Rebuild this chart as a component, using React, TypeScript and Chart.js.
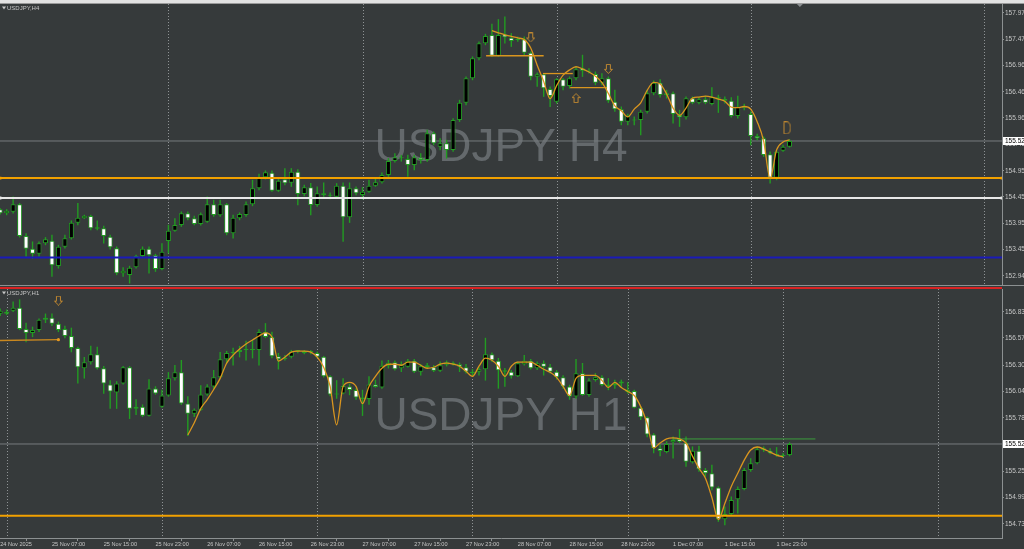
import React, { useEffect, useRef } from "react";
import { Chart, registerables } from "chart.js";

Chart.register(...registerables);

const FONT = '"Liberation Sans", Arial, Helvetica, sans-serif';
const BG = "#363a3b";
const SEP = "#8f9395";
const AXIS = "#8c9091";
const TXT = "#c6c6c6";
const WM = "#64696c";
const GREEN = "#229c22";
const CURVE = "#d9951f";
const ORANGE = "#f2a100";
const ARROW = "#c08830";

// ---------------- H4 (top panel) ----------------
const h4Open = [
  154.213, 154.137, 154.169, 154.309, 153.703, 153.461, 153.365, 153.563, 153.614, 153.13,
  153.499, 153.659, 153.958, 154.041, 154.086, 153.869, 153.85, 153.69, 153.467, 152.989,
  152.958, 153.104, 153.321, 153.461, 153.334, 153.072, 153.608, 153.805, 153.914, 154.137,
  154.041, 153.933, 153.978, 154.309, 154.099, 154.309, 153.754, 154.041, 154.105, 154.309,
  154.615, 154.825, 154.915, 154.57, 154.787, 154.723, 154.934, 154.507, 154.634, 154.296,
  154.519, 154.481, 154.456, 154.666, 154.06, 154.615, 154.487, 154.551, 154.666, 154.73,
  154.87, 155.138, 155.21, 155.176, 155.061, 155.201, 155.157, 155.666, 155.411, 155.475,
  155.348, 155.921, 156.253, 156.718, 157.101, 157.388, 157.547, 157.152, 157.56, 157.496,
  157.464, 157.464, 157.209, 156.75, 156.795, 156.514, 156.272, 156.699, 156.572, 156.718,
  156.909, 156.865, 156.801, 156.635, 156.718, 156.272, 156.125, 155.889, 155.91, 155.921,
  156.081, 156.431, 156.635, 156.393, 156.431, 156.017, 155.972, 156.336, 156.253, 156.317,
  156.227, 156.355, 156.323, 156.291, 155.998, 156.157, 156.036, 155.615, 155.571, 155.265,
  154.819, 155.335, 155.412,
];
const h4High = [
  154.23, 154.213, 154.456, 154.328, 153.754, 153.595, 153.595, 153.678, 153.722, 153.531,
  153.722, 153.997, 154.328, 154.105, 154.105, 153.997, 153.895, 153.722, 153.499, 153.104,
  153.13, 153.34, 153.499, 153.499, 153.359, 153.563, 153.914, 154.041, 154.169, 154.169,
  154.086, 154.15, 154.456, 154.392, 154.392, 154.328, 154.105, 154.15, 154.36, 154.774,
  154.889, 154.953, 154.953, 154.787, 154.997, 154.997, 154.978, 154.679, 154.711, 154.647,
  154.723, 154.53, 154.711, 154.723, 154.723, 154.647, 154.634, 154.774, 154.825, 154.915,
  155.189, 155.284, 155.25, 155.252, 155.252, 155.284, 155.73, 155.698, 155.571, 155.539,
  155.953, 156.304, 156.75, 157.133, 157.42, 157.566, 157.757, 157.846, 157.897, 157.579,
  157.515, 157.515, 157.228, 156.827, 156.814, 156.559, 156.718, 156.718, 156.75, 156.941,
  157.165, 156.909, 156.846, 156.814, 156.75, 156.495, 156.176, 156.036, 155.985, 156.113,
  156.495, 156.674, 156.699, 156.495, 156.463, 156.113, 156.368, 156.368, 156.355, 156.38,
  156.546, 156.4, 156.368, 156.355, 156.38, 156.227, 156.081, 155.654, 155.603, 155.316,
  155.348, 155.443, 155.55,
];
const h4Low = [
  154.12, 154.105, 154.137, 153.678, 153.308, 153.276, 153.308, 153.531, 152.926, 153.085,
  153.467, 153.64, 153.914, 154.035, 153.818, 153.818, 153.563, 153.448, 152.958, 152.926,
  152.798, 153.085, 153.308, 152.989, 153.021, 153.053, 153.372, 153.786, 153.882, 154.009,
  153.914, 153.907, 153.958, 154.073, 154.073, 153.722, 153.659, 154.009, 154.073, 154.277,
  154.583, 154.787, 154.551, 154.551, 154.679, 154.647, 154.296, 154.468, 154.105, 154.264,
  154.456, 154.41, 154.424, 153.595, 153.958, 154.487, 154.405, 154.532, 154.647, 154.711,
  154.838, 155.112, 155.13, 154.838, 154.965, 155.093, 155.125, 155.443, 155.348, 155.188,
  155.316, 155.889, 156.208, 156.686, 157.069, 157.356, 157.133, 157.133, 157.388, 157.324,
  157.42, 157.164, 156.686, 156.559, 156.368, 156.176, 156.24, 156.495, 156.527, 156.686,
  156.75, 156.814, 156.591, 156.591, 156.253, 156.081, 155.826, 155.826, 155.826, 155.634,
  156.049, 156.4, 156.355, 156.336, 155.858, 155.794, 155.934, 156.227, 156.227, 156.227,
  156.208, 156.062, 156.24, 155.972, 155.953, 156.113, 155.443, 155.539, 155.22, 154.71,
  154.774, 155.316, 155.399,
];
const h4Close = [
  154.137, 154.188, 154.309, 153.703, 153.461, 153.365, 153.563, 153.64, 153.142, 153.499,
  153.659, 153.958, 154.054, 154.092, 153.85, 153.844, 153.703, 153.486, 152.989, 153.04,
  153.098, 153.321, 153.461, 153.334, 153.072, 153.404, 153.805, 153.914, 154.137, 154.041,
  153.933, 154.118, 154.309, 154.105, 154.309, 153.754, 154.054, 154.124, 154.309, 154.615,
  154.825, 154.921, 154.57, 154.762, 154.711, 154.934, 154.507, 154.634, 154.296, 154.519,
  154.487, 154.475, 154.666, 154.06, 154.615, 154.519, 154.551, 154.666, 154.73, 154.87,
  155.138, 155.208, 155.19, 155.061, 155.207, 155.157, 155.666, 155.475, 155.475, 155.348,
  155.921, 156.253, 156.718, 157.101, 157.388, 157.528, 157.152, 157.547, 157.502, 157.432,
  157.451, 157.209, 156.75, 156.795, 156.527, 156.38, 156.699, 156.559, 156.718, 156.89,
  156.865, 156.846, 156.635, 156.718, 156.291, 156.125, 155.889, 155.998, 155.93, 156.081,
  156.431, 156.635, 156.4, 156.431, 156.036, 155.972, 156.336, 156.253, 156.317, 156.253,
  156.355, 156.329, 156.291, 155.998, 156.176, 156.189, 155.615, 155.571, 155.252, 154.819,
  155.316, 155.412, 155.52,
];
const h4CurveStart = 76;
const h4Curve = [
  157.63, 157.59, 157.55, 157.52, 157.49, 157.46, 157.3, 156.97, 156.66, 156.33,
  156.58, 156.78, 156.88, 156.94, 156.9, 156.84, 156.76, 156.64, 156.43, 156.19,
  156.1, 155.98, 156.13, 156.25, 156.49, 156.64, 156.61, 156.42, 156.15, 156.01,
  156.15, 156.34, 156.36, 156.38, 156.36, 156.32, 156.28, 156.17, 156.16, 156.18,
  156.13, 155.89, 155.52, 154.8, 155.35, 155.5, 155.54,
];
const h4Separators = [26, 56, 86, 116, 152];
const h4PriceTicks = [157.97, 157.47, 156.96, 156.46, 155.96, 155.46, 154.95, 154.45, 153.95, 153.45, 152.94];
const h4LevelOrange = 154.81;
const h4LevelWhite = 154.43;
const h4LevelBlue = 153.29;
const h4SegStart = [75.1, 83.9, 88.1];
const h4SegEnd = [84.0, 88.5, 93.8];
const h4SegPrice = [157.15, 156.81, 156.54];
const h4DownArrowBars = [82, 94];
const h4DownArrowPrices = [157.5, 156.9];
const h4UpArrowBars = [89];
const h4UpArrowPrices = [156.34];
const h4MarkBar = [121.6];
const h4MarkPrice = [155.77];
const h4ShiftBar = 123.6;
const h4Range = [152.766, 158.14];

// ---------------- H1 (bottom panel) ----------------
const h1Open = [
  156.81, 156.81, 156.84, 156.87, 156.66, 156.62, 156.65, 156.75, 156.77, 156.71,
  156.66, 156.59, 156.47, 156.27, 156.33, 156.41, 156.27, 156.11, 156.03, 156.12,
  156.28, 155.87, 155.89, 155.8, 156.07, 155.89, 156.0, 156.17, 156.23, 155.92,
  155.82, 155.86, 156.01, 156.09, 156.18, 156.36, 156.42, 156.43, 156.45, 156.45,
  156.45, 156.63, 156.58, 156.39, 156.36, 156.385, 156.44, 156.44, 156.43, 156.42,
  156.385, 156.19, 156.015, 156.02, 156.09, 156.055, 155.98, 155.965, 156.11, 156.08,
  156.295, 156.33, 156.27, 156.285, 156.345, 156.235, 156.3, 156.28, 156.245, 156.305,
  156.31, 156.31, 156.28, 156.22, 156.235, 156.26, 156.41, 156.345, 156.25, 156.235,
  156.19, 156.31, 156.345, 156.27, 156.32, 156.285, 156.235, 156.18, 156.09, 155.99,
  156.22, 156.005, 156.155, 156.18, 156.11, 156.1, 156.12, 156.035, 156.045, 155.88,
  155.785, 155.615, 155.477, 155.44, 155.537, 155.57, 155.533, 155.339, 155.454, 155.263,
  155.23, 155.088, 154.774, 154.827, 154.972, 155.075, 155.263, 155.329, 155.477, 155.454,
  155.421, 155.405, 155.41,
];
const h1High = [
  156.86, 156.85, 156.93, 156.95, 156.72, 156.68, 156.76, 156.81, 156.81, 156.73,
  156.69, 156.67, 156.48, 156.38, 156.49, 156.48, 156.29, 156.15, 156.14, 156.29,
  156.29, 155.96, 155.91, 156.16, 156.09, 156.055, 156.23, 156.3, 156.35, 155.99,
  155.87, 156.1, 156.11, 156.25, 156.43, 156.44, 156.47, 156.49, 156.54, 156.55,
  156.655, 156.715, 156.63, 156.42, 156.4, 156.45, 156.45, 156.45, 156.45, 156.435,
  156.39, 156.2, 156.15, 156.17, 156.115, 156.07, 156.055, 156.19, 156.155, 156.345,
  156.35, 156.345, 156.335, 156.36, 156.36, 156.31, 156.32, 156.3, 156.335, 156.345,
  156.335, 156.325, 156.31, 156.26, 156.28, 156.57, 156.425, 156.37, 156.27, 156.25,
  156.335, 156.4, 156.36, 156.335, 156.345, 156.31, 156.25, 156.2, 156.105, 156.36,
  156.32, 156.17, 156.22, 156.2, 156.17, 156.155, 156.155, 156.13, 156.055, 155.89,
  155.79, 155.625, 155.51, 155.545, 155.593, 155.665, 155.593, 155.494, 155.5, 155.28,
  155.312, 155.098, 154.9, 154.999, 155.098, 155.28, 155.378, 155.494, 155.494, 155.477,
  155.487, 155.43, 155.535,
];
const h1Low = [
  156.79, 156.8, 156.83, 156.65, 156.53, 156.58, 156.63, 156.72, 156.69, 156.63,
  156.57, 156.43, 156.12, 156.17, 156.31, 156.26, 156.02, 155.87, 155.87, 156.11,
  155.77, 155.81, 155.79, 155.795, 156.01, 155.88, 155.99, 156.15, 155.91, 155.6,
  155.79, 155.85, 156.0, 156.07, 156.17, 156.32, 156.3, 156.38, 156.35, 156.37,
  156.3, 156.57, 156.37, 156.26, 156.35, 156.37, 156.42, 156.41, 156.41, 156.37,
  156.18, 155.995, 155.97, 156.015, 156.005, 155.96, 155.8, 155.91, 156.08, 156.07,
  156.27, 156.25, 156.235, 156.28, 156.225, 156.2, 156.27, 156.235, 156.235, 156.29,
  156.3, 156.235, 156.22, 156.19, 156.2, 156.15, 156.335, 156.07, 156.09, 156.17,
  156.185, 156.3, 156.26, 156.255, 156.2, 156.22, 156.16, 156.07, 155.96, 155.97,
  156.0, 155.99, 156.14, 156.095, 156.055, 156.07, 156.09, 156.02, 155.875, 155.76,
  155.59, 155.43, 155.4, 155.43, 155.378, 155.533, 155.296, 155.329, 155.246, 155.197,
  155.065, 154.751, 154.718, 154.817, 154.834, 155.065, 155.246, 155.322, 155.444, 155.421,
  155.395, 155.39, 155.4,
];
const h1Close = [
  156.84, 156.83, 156.87, 156.66, 156.62, 156.65, 156.75, 156.77, 156.71, 156.65,
  156.59, 156.47, 156.28, 156.33, 156.41, 156.27, 156.12, 156.04, 156.12, 156.28,
  155.87, 155.89, 155.8, 156.07, 156.02, 156.0, 156.17, 156.23, 155.92, 155.82,
  155.86, 156.01, 156.09, 156.18, 156.36, 156.42, 156.43, 156.45, 156.45, 156.45,
  156.63, 156.58, 156.39, 156.36, 156.375, 156.435, 156.44, 156.42, 156.43, 156.385,
  156.19, 156.01, 156.01, 156.095, 156.055, 155.98, 155.965, 156.11, 156.085, 156.295,
  156.325, 156.26, 156.3, 156.345, 156.235, 156.29, 156.28, 156.245, 156.3, 156.33,
  156.325, 156.285, 156.235, 156.235, 156.26, 156.41, 156.35, 156.25, 156.235, 156.19,
  156.32, 156.345, 156.27, 156.32, 156.285, 156.235, 156.18, 156.09, 155.99, 156.22,
  156.005, 156.15, 156.18, 156.105, 156.095, 156.12, 156.14, 156.055, 155.88, 155.785,
  155.615, 155.477, 155.45, 155.52, 155.56, 155.543, 155.345, 155.454, 155.27, 155.23,
  155.088, 154.774, 154.827, 154.966, 155.075, 155.263, 155.329, 155.468, 155.461, 155.428,
  155.408, 155.4, 155.52,
];
const h1CurveStart = 29;
const h1Curve = [
  155.61, 155.73, 155.87, 155.96, 156.06, 156.17, 156.32, 156.4, 156.46, 156.51,
  156.55, 156.59, 156.62, 156.58, 156.34, 156.38, 156.43, 156.44, 156.44, 156.43,
  156.38, 156.28, 156.09, 155.71, 156.09, 156.13, 156.09, 155.92, 156.09, 156.19,
  156.27, 156.31, 156.31, 156.3, 156.33, 156.33, 156.3, 156.27, 156.28, 156.31,
  156.32, 156.31, 156.29, 156.24, 156.19, 156.29, 156.37, 156.35, 156.29, 156.19,
  156.29, 156.33, 156.33, 156.33, 156.3, 156.26, 156.23, 156.18, 156.09, 156.0,
  156.17, 156.2, 156.2, 156.2, 156.15, 156.08, 156.13, 156.08, 156.04, 156.0,
  155.89, 155.72, 155.48, 155.53, 155.57, 155.58, 155.57, 155.53, 155.4, 155.28,
  155.18, 154.99, 154.77, 154.93, 155.1, 155.23, 155.36, 155.46, 155.49, 155.47,
  155.44, 155.41, 155.39,
];
const h1Separators = [1, 25, 49, 73, 97, 121, 145];
const h1PriceTicks = [156.83, 156.57, 156.3, 156.04, 155.78, 155.51, 155.25, 154.99, 154.73];
const h1TimeTicks = [0, 8, 16, 24, 32, 40, 48, 56, 64, 72, 80, 88, 96, 104, 112, 120];
const h1TimeLabels = [
  "24 Nov 2025", "25 Nov 07:00", "25 Nov 15:00", "25 Nov 23:00", "26 Nov 07:00", "26 Nov 15:00",
  "26 Nov 23:00", "27 Nov 07:00", "27 Nov 15:00", "27 Nov 23:00", "28 Nov 07:00", "28 Nov 15:00",
  "28 Nov 23:00", "1 Dec 07:00", "1 Dec 15:00", "1 Dec 23:00",
];
const h1LevelOrange = 154.81;
const h1LevelGreen = 155.57;
const h1GreenFrom = 104;
const h1GreenTo = 126;
const h1PivotBars = [-0.03, 9];
const h1PivotPrices = [156.545, 156.553];
const h1DownArrowBars = [9];
const h1DownArrowPrices = [156.94];
const h1Range = [154.589, 157.055];

const bidPrice = 155.52;
const xRange = [-0.03, 154.84];

function glyph(kind: string): HTMLCanvasElement {
  const c = document.createElement("canvas");
  const w = 9;
  const h = kind === "d" ? 13 : 10;
  c.width = w;
  c.height = h;
  const g = c.getContext("2d")!;
  g.strokeStyle = ARROW;
  g.lineWidth = 1;
  g.beginPath();
  if (kind === "down") {
    g.moveTo(2.5, 0.5); g.lineTo(6.5, 0.5); g.lineTo(6.5, 5.5); g.lineTo(8.5, 5.5);
    g.lineTo(4.5, 9.5); g.lineTo(0.5, 5.5); g.lineTo(2.5, 5.5); g.closePath();
  } else if (kind === "up") {
    g.moveTo(2.5, 9.5); g.lineTo(6.5, 9.5); g.lineTo(6.5, 4.5); g.lineTo(8.5, 4.5);
    g.lineTo(4.5, 0.5); g.lineTo(0.5, 4.5); g.lineTo(2.5, 4.5); g.closePath();
  } else {
    g.moveTo(1.5, 0.5); g.lineTo(4.5, 0.5); g.quadraticCurveTo(8, 1, 8, 6.5);
    g.quadraticCurveTo(8, 12, 4.5, 12.5); g.lineTo(1.5, 12.5); g.closePath();
  }
  g.stroke();
  return c;
}

type PanelDef = {
  O: number[]; H: number[]; L: number[]; C: number[];
  curveStart: number; curve: number[];
  range: number[]; priceTicks: number[]; separators: number[];
  watermark: string; title: string; isTop: boolean;
  extra: any[];
};

function hline(y: number, color: string, width: number, x0 = xRange[0], x1 = xRange[1], marks = true) {
  return {
    type: "line",
    data: [{ x: x0, y }, { x: x1, y }],
    borderColor: color,
    backgroundColor: color,
    borderWidth: width,
    pointRadius: marks ? 2 : 0,
    pointStyle: "rect",
    pointBorderWidth: 0,
    order: 3,
  };
}

function markers(bars: number[], prices: number[], img: HTMLCanvasElement) {
  return {
    type: "line",
    showLine: false,
    data: bars.map((b, k) => ({ x: b, y: prices[k] })),
    pointStyle: img,
    pointRadius: 5,
    order: 1,
  };
}

function decor(p: PanelDef) {
  return {
    id: "decor",
    beforeDraw(chart: any) {
      const { ctx, width, height } = chart;
      ctx.save();
      ctx.fillStyle = BG;
      ctx.fillRect(0, 0, width, height);
      if (p.isTop) {
        ctx.fillStyle = "#e2e2e2";
        ctx.fillRect(0, 0, width, 3);
        ctx.fillStyle = "#9a9a9a";
        ctx.fillRect(0, 3, width, 1);
      }
      ctx.restore();
    },
    beforeDatasetsDraw(chart: any) {
      const { ctx, chartArea: a } = chart;
      const xs = chart.scales.x;
      ctx.save();
      const fs = 46;
      ctx.font = `${fs}px ${FONT}`;
      ctx.fillStyle = WM;
      ctx.textAlign = "center";
      ctx.textBaseline = "alphabetic";
      ctx.fillText(p.watermark, (a.left + a.right) / 2, (a.top + a.bottom) / 2 + fs * 0.36);
      ctx.strokeStyle = SEP;
      ctx.lineWidth = 1;
      ctx.setLineDash([1, 2]);
      for (const s of p.separators) {
        const px = Math.round(xs.getPixelForValue(s)) + 0.5;
        if (px > a.right - 1) continue;
        ctx.beginPath();
        ctx.moveTo(px, a.top);
        ctx.lineTo(px, a.bottom);
        ctx.stroke();
      }
      ctx.restore();
    },
    afterDraw(chart: any) {
      const { ctx, chartArea: a, width } = chart;
      const ys = chart.scales.y;
      const xs = chart.scales.x;
      ctx.save();
      const y = Math.round(ys.getPixelForValue(bidPrice));
      ctx.fillStyle = "#ffffff";
      ctx.fillRect(a.right + 1, y - 4, width - a.right - 1, 8);
      ctx.fillStyle = "#000000";
      ctx.font = `6.5px ${FONT}`;
      ctx.textAlign = "left";
      ctx.textBaseline = "middle";
      ctx.fillText(bidPrice.toFixed(2), a.right + 3, y + 0.5);
      ctx.fillStyle = TXT;
      ctx.font = `6px ${FONT}`;
      ctx.fillText(p.title, 7, a.top + 4);
      ctx.beginPath();
      ctx.moveTo(2, a.top + 2.5);
      ctx.lineTo(6, a.top + 2.5);
      ctx.lineTo(4, a.top + 5.5);
      ctx.closePath();
      ctx.fill();
      if (p.isTop) {
        ctx.fillStyle = AXIS;
        ctx.fillRect(0, a.bottom, width, 1);
        const sx = xs.getPixelForValue(h4ShiftBar);
        ctx.fillStyle = "#8a8e90";
        ctx.beginPath();
        ctx.moveTo(sx - 3, a.top);
        ctx.lineTo(sx + 3, a.top);
        ctx.lineTo(sx, a.top + 3);
        ctx.closePath();
        ctx.fill();
      } else {
        ctx.fillStyle = "#d82222";
        ctx.fillRect(0, 0, a.right, 2);
      }
      ctx.restore();
    },
  };
}

function buildConfig(p: PanelDef, showTime: boolean): any {
  const idx = p.O.map((_, i) => i);
  const datasets: any[] = [
    { ...hline(bidPrice, "#767b7e", 1, xRange[0], xRange[1], false), order: 9 },
    {
      type: "bar",
      data: idx.map((i) => ({ x: i, y: [p.L[i], p.H[i]] })),
      backgroundColor: GREEN,
      borderWidth: 0,
      barThickness: 1,
      inflateAmount: 0.2,
      grouped: false,
      order: 6,
    },
    {
      type: "bar",
      data: idx.map((i) => ({ x: i, y: [p.O[i], p.C[i]] })),
      backgroundColor: idx.map((i) => (p.C[i] >= p.O[i] ? "#000000" : "#ffffff")),
      borderColor: GREEN,
      borderWidth: 1,
      borderSkipped: false,
      barThickness: 5,
      minBarLength: 1,
      inflateAmount: 0,
      grouped: false,
      order: 5,
    },
    {
      type: "line",
      data: p.curve.map((v, k) => ({ x: p.curveStart + k, y: v })),
      borderColor: CURVE,
      borderWidth: 1.3,
      pointRadius: 0,
      cubicInterpolationMode: "monotone",
      order: 2,
    },
    ...p.extra,
  ];
  return {
    type: "bar",
    data: { datasets },
    plugins: [decor(p)],
    options: {
      responsive: false,
      maintainAspectRatio: false,
      animation: false,
      devicePixelRatio: 1,
      events: [],
      layout: { autoPadding: false, padding: p.isTop ? { top: 4, bottom: 2, left: 0, right: 0 } : { top: 2, bottom: 0, left: 0, right: 0 } },
      plugins: { legend: { display: false }, tooltip: { enabled: false } },
      scales: {
        x: {
          type: "linear",
          min: xRange[0],
          max: xRange[1],
          offset: false,
          display: showTime,
          position: "bottom",
          afterFit: (s: any) => {
            s.height = showTime ? 11 : 0;
            s.paddingLeft = 0;
            s.paddingRight = 0;
          },
          afterBuildTicks: (s: any) => { s.ticks = h1TimeTicks.map((v) => ({ value: v })); },
          ticks: {
            align: "start",
            autoSkip: false,
            maxRotation: 0,
            minRotation: 0,
            padding: 0,
            color: TXT,
            font: { size: 5.6, family: FONT },
            callback: (v: any) => h1TimeLabels[h1TimeTicks.indexOf(Number(v))] ?? "",
          },
          grid: { drawOnChartArea: false, drawTicks: true, tickLength: 3, color: AXIS },
          border: { display: true, color: AXIS, width: 1 },
        },
        y: {
          type: "linear",
          position: "right",
          min: p.range[0],
          max: p.range[1],
          afterFit: (s: any) => {
            s.width = 22;
            s.paddingTop = 0;
            s.paddingBottom = 0;
          },
          afterBuildTicks: (s: any) => { s.ticks = p.priceTicks.map((v) => ({ value: v })); },
          ticks: {
            autoSkip: false,
            padding: 1,
            color: TXT,
            font: { size: 6.5, family: FONT },
            callback: (v: any) => Number(v).toFixed(2),
          },
          grid: { drawOnChartArea: false, drawTicks: true, tickLength: 2, color: AXIS },
          border: { display: true, color: AXIS, width: 1 },
        },
      },
    },
  };
}

export default function App() {
  const topRef = useRef<HTMLCanvasElement>(null);
  const botRef = useRef<HTMLCanvasElement>(null);

  useEffect(() => {
    const down = glyph("down");
    const up = glyph("up");
    const dMark = glyph("d");

    const top: PanelDef = {
      O: h4Open, H: h4High, L: h4Low, C: h4Close,
      curveStart: h4CurveStart, curve: h4Curve,
      range: h4Range, priceTicks: h4PriceTicks, separators: h4Separators,
      watermark: "USDJPY H4", title: "USDJPY,H4", isTop: true,
      extra: [
        hline(h4LevelOrange, ORANGE, 2),
        hline(h4LevelWhite, "#e8e8e8", 2),
        hline(h4LevelBlue, "#1a1ab8", 2, xRange[0], xRange[1], false),
        ...h4SegPrice.map((pr, k) => ({ ...hline(pr, CURVE, 1.3, h4SegStart[k], h4SegEnd[k], false), order: 2 })),
        markers(h4DownArrowBars, h4DownArrowPrices, down),
        markers(h4UpArrowBars, h4UpArrowPrices, up),
        markers(h4MarkBar, h4MarkPrice, dMark),
      ],
    };
    const bottom: PanelDef = {
      O: h1Open, H: h1High, L: h1Low, C: h1Close,
      curveStart: h1CurveStart, curve: h1Curve,
      range: h1Range, priceTicks: h1PriceTicks, separators: h1Separators,
      watermark: "USDJPY H1", title: "USDJPY,H1", isTop: false,
      extra: [
        hline(h1LevelOrange, ORANGE, 2, xRange[0], xRange[1], false),
        { ...hline(h1LevelGreen, "#3c9e3c", 1, h1GreenFrom, h1GreenTo, false), order: 3 },
        {
          type: "line",
          data: h1PivotBars.map((b, k) => ({ x: b, y: h1PivotPrices[k] })),
          borderColor: "#c9881f",
          backgroundColor: "#e89a20",
          borderWidth: 1.3,
          pointRadius: [0, 1.6],
          pointBorderWidth: 0,
          order: 2,
        },
        markers(h1DownArrowBars, h1DownArrowPrices, down),
      ],
    };

    const c1 = new Chart(topRef.current as HTMLCanvasElement, buildConfig(top, false));
    const c2 = new Chart(botRef.current as HTMLCanvasElement, buildConfig(bottom, true));
    return () => {
      c1.destroy();
      c2.destroy();
    };
  }, []);

  return (
    <div style={{ position: "fixed", left: 0, top: 0, width: 1024, height: 549, background: BG, overflow: "hidden" }}>
      <canvas ref={topRef} width={1024} height={287} style={{ position: "absolute", left: 0, top: 0, width: 1024, height: 287 }} />
      <canvas ref={botRef} width={1024} height={262} style={{ position: "absolute", left: 0, top: 287, width: 1024, height: 262 }} />
    </div>
  );
}
